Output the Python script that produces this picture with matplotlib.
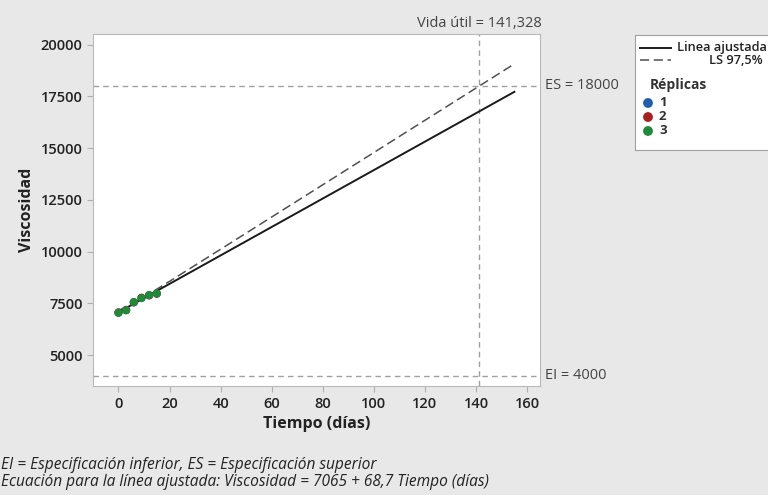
import matplotlib
matplotlib.use("Agg")
import matplotlib.pyplot as plt

plt.rcParams['font.family'] = ['Open Sans', 'DejaVu Sans']

# Data
dias = [0, 3, 6, 9, 12, 15]
rep1 = [7050, 7180, 7540, 7760, 7880, 7960]
rep2 = [7060, 7170, 7550, 7770, 7890, 7970]
rep3 = [7040, 7160, 7560, 7750, 7900, 7980]

fit_t = [0, 155]
fit_v = [7065, 7065 + 68.7 * 155]

ls_t = [0, 10, 20, 40, 60, 80, 100, 120, 141.328, 155]
ls_v = [7145, 7800, 8560, 10111, 11668, 13225, 14782, 16340, 18000, 19064]

es, ei = 18000, 4000
vida_util = 141.328

colores = {'1': '#1f5fae', '2': '#a8201f', '3': '#1e8a3a'}
gris = '#e8e8e8'

fig = plt.figure(figsize=(7.68, 4.95), dpi=100, facecolor=gris)
ax = fig.add_axes([0.121, 0.22, 0.582, 0.711])
ax.set_facecolor('white')

ax.axhline(es, color='#a0a0a0', lw=1, ls=(0, (4, 3)))
ax.axhline(ei, color='#a0a0a0', lw=1, ls=(0, (4, 3)))
ax.axvline(vida_util, color='#a0a0a0', lw=1, ls=(0, (4, 3)))

ax.plot(ls_t, ls_v, color='#505050', lw=1.1, ls=(0, (6, 3)))
ax.plot(fit_t, fit_v, color='#1a1a1a', lw=1.4)

for lab, vals in zip(['1', '2', '3'], [rep1, rep2, rep3]):
    ax.scatter(dias, vals, s=34, color=colores[lab], zorder=3, edgecolors='none')

ax.set_xlim(-10, 165)
ax.set_ylim(3500, 20500)
ax.set_xticks(range(0, 161, 20))
ax.set_yticks(range(5000, 20001, 2500))
for s in ax.spines.values():
    s.set_color('#b8b8b8')
ax.tick_params(colors='#b0b0b0', labelcolor='#222222', labelsize=10.5, length=4)
for t in ax.get_xticklabels() + ax.get_yticklabels():
    t.set_fontweight('semibold')
ax.set_xlabel('Tiempo (días)', fontsize=11.5, fontweight='bold', color='#222222')
ax.set_ylabel('Viscosidad', fontsize=11.5, fontweight='bold', color='#222222')

ax.text(1.012, es, 'ES = 18000', transform=ax.get_yaxis_transform(), va='center',
        ha='left', fontsize=10.5, color='#444444')
ax.text(1.012, ei, 'EI = 4000', transform=ax.get_yaxis_transform(), va='center',
        ha='left', fontsize=10.5, color='#444444')
ax.text(vida_util, 1.008, 'Vida útil = 141,328', transform=ax.get_xaxis_transform(),
        ha='center', va='bottom', fontsize=10.5, color='#444444')

# legend box
lg = fig.add_axes([635 / 768, 1 - 150 / 495, 140 / 768, 115 / 495])
lg.set_xlim(0, 140)
lg.set_ylim(115, 0)
lg.set_facecolor('white')
lg.set_xticks([])
lg.set_yticks([])
for s in lg.spines.values():
    s.set_color('#a0a0a0')
lg.plot([5, 36], [13, 13], color='#1a1a1a', lw=1.4)
lg.plot([5, 36], [25, 25], color='#505050', lw=1.1, ls=(0, (6, 3)))
lg.text(132, 13, 'Linea ajustada', ha='right', va='center', fontsize=9.2,
        fontweight='semibold', color='#222222')
lg.text(128, 25, 'LS 97,5%', ha='right', va='center', fontsize=9.2,
        fontweight='semibold', color='#222222')
lg.text(15, 50, 'Réplicas', ha='left', va='center', fontsize=10, fontweight='bold', color='#333333')
for i, lab in enumerate(['1', '2', '3']):
    y = 68 + 14 * i
    lg.scatter([13], [y], s=50, color=colores[lab], edgecolors='none')
    lg.text(24, y, lab, ha='left', va='center', fontsize=9.5, fontweight='bold', color='#333333')

fig.text(0.001, 1 - 465 / 495, 'EI = Especificación inferior, ES = Especificación superior',
         fontsize=11.2, style='italic', color='#222222', va='center')
fig.text(0.001, 1 - 482 / 495, 'Ecuación para la línea ajustada: Viscosidad = 7065 + 68,7 Tiempo (días)',
         fontsize=11.2, style='italic', color='#222222', va='center')

fig.savefig('out.png', dpi=100, facecolor=gris)
